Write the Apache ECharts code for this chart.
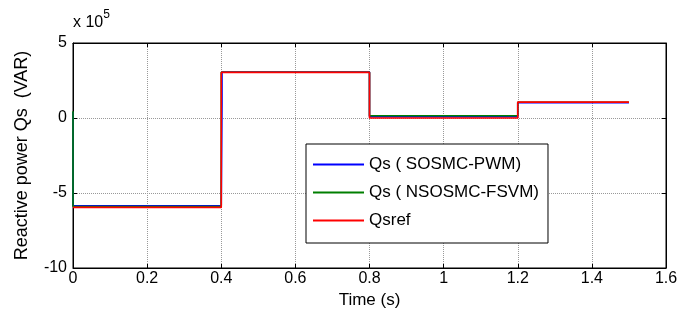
<!DOCTYPE html>
<html>
<head>
<meta charset="utf-8">
<script src="https://cdn.jsdelivr.net/npm/echarts@6/dist/echarts.min.js"></script>
<style>
  html, body { margin: 0; padding: 0; background: #fff; }
  #chart { width: 698px; height: 322px; }
</style>
</head>
<body>
<div id="chart"></div>
<script>
// data in units of 1e5 VAR
var seriesNames = ['Qs ( SOSMC-PWM)', 'Qs ( NSOSMC-FSVM)', 'Qsref'];
var seriesColors = ['#0000ff', '#007f00', '#ff0000'];

var timeBlue = [0, 0, 0.4, 0.402, 0.402, 0.8, 0.8, 1.2, 1.2, 1.5];
var qsBlue = [0.4, -5.85, -5.85, 1.0, 3.06, 3.06, 0.08, 0.08, 1.02, 1.02];

var timeGreen = [0, 0, 0.4, 0.4, 0.8, 0.8, 1.2, 1.2, 1.5];
var qsGreen = [0.45, -5.9, -5.9, 3.05, 3.05, 0.15, 0.15, 1.05, 1.05];

var timeRef = [0, 0.4, 0.4, 0.8, 0.8, 1.2, 1.2, 1.5];
var qsRef = [-5.96, -5.96, 3.04, 3.04, 0, 0, 1.06, 1.06];

var xTicks = [0, 0.2, 0.4, 0.6, 0.8, 1, 1.2, 1.4, 1.6];
var yTicks = [-10, -5, 0, 5];

function pairs(xs, ys) {
  return xs.map(function (x, i) { return [x, ys[i]]; });
}

var chart = echarts.init(document.getElementById('chart'));
var font = 'Liberation Sans, Arial, sans-serif';
var gridLine = { show: true, lineStyle: { color: '#999', type: 'dotted', width: 1 } };

var option = {
  animation: false,
  backgroundColor: '#fff',
  textStyle: { fontFamily: font },
  grid: { left: 73, right: 32, top: 43, bottom: 54, show: true, borderColor: '#000', borderWidth: 1 },
  legend: {
    data: seriesNames,
    orient: 'vertical',
    left: 306,
    top: 144,
    padding: [12, 9, 14, 7],
    itemGap: 11,
    itemWidth: 51,
    itemHeight: 2,
    icon: 'rect',
    backgroundColor: '#fff',
    borderColor: '#000',
    borderWidth: 1,
    textStyle: { fontSize: 17, color: '#000', fontFamily: font }
  },
  graphic: [{
    type: 'text',
    left: 73,
    top: 9,
    style: {
      text: '{a|x 10}{b|5}',
      rich: {
        a: { fontSize: 16, fontFamily: font, fill: '#000', padding: [6, 0, 0, 0] },
        b: { fontSize: 12, fontFamily: font, fill: '#000', verticalAlign: 'top' }
      }
    }
  }],
  xAxis: [{
    type: 'value',
    min: 0, max: 1.6, interval: 0.2,
    name: 'Time (s)',
    nameLocation: 'middle',
    nameGap: 20,
    nameTextStyle: { fontSize: 17, color: '#000', verticalAlign: 'top' },
    axisLine: { onZero: false, lineStyle: { color: '#000' } },
    axisTick: { inside: true, length: 4, lineStyle: { color: '#000' } },
    axisLabel: {
      fontSize: 16, color: '#000', margin: 3,
      formatter: function (v) { return xTicks.indexOf(+v.toFixed(1)) >= 0 ? String(+v.toFixed(1)) : ''; }
    },
    splitLine: gridLine
  }, {
    type: 'value', position: 'top',
    min: 0, max: 1.6, interval: 0.2,
    axisLine: { onZero: false, lineStyle: { color: '#000' } },
    axisTick: { inside: true, length: 4, lineStyle: { color: '#000' } },
    axisLabel: { show: false },
    splitLine: { show: false }
  }],
  yAxis: [{
    type: 'value',
    min: -10, max: 5, interval: 5,
    name: 'Reactive power Qs  (VAR)',
    nameLocation: 'middle',
    nameGap: 42,
    nameTextStyle: { fontSize: 18, color: '#000' },
    axisLine: { show: true, onZero: false, lineStyle: { color: '#000' } },
    axisTick: { show: true, inside: true, length: 4, lineStyle: { color: '#000' } },
    axisLabel: {
      fontSize: 16, color: '#000', margin: 6,
      formatter: function (v) { return yTicks.indexOf(v) >= 0 ? String(v) : ''; }
    },
    splitLine: gridLine
  }, {
    type: 'value', position: 'right',
    min: -10, max: 5, interval: 5,
    axisLine: { show: true, onZero: false, lineStyle: { color: '#000' } },
    axisTick: { show: true, inside: true, length: 4, lineStyle: { color: '#000' } },
    axisLabel: { show: false },
    splitLine: { show: false }
  }],
  series: [
    { name: seriesNames[0], type: 'line', data: pairs(timeBlue, qsBlue) },
    { name: seriesNames[1], type: 'line', data: pairs(timeGreen, qsGreen) },
    { name: seriesNames[2], type: 'line', data: pairs(timeRef, qsRef) }
  ].map(function (s, i) {
    s.color = seriesColors[i];
    s.showSymbol = false;
    s.symbol = 'none';
    s.lineStyle = { width: 1.6, color: seriesColors[i] };
    s.z = 2 + i;
    return s;
  })
};

chart.setOption(option);
</script>
</body>
</html>
